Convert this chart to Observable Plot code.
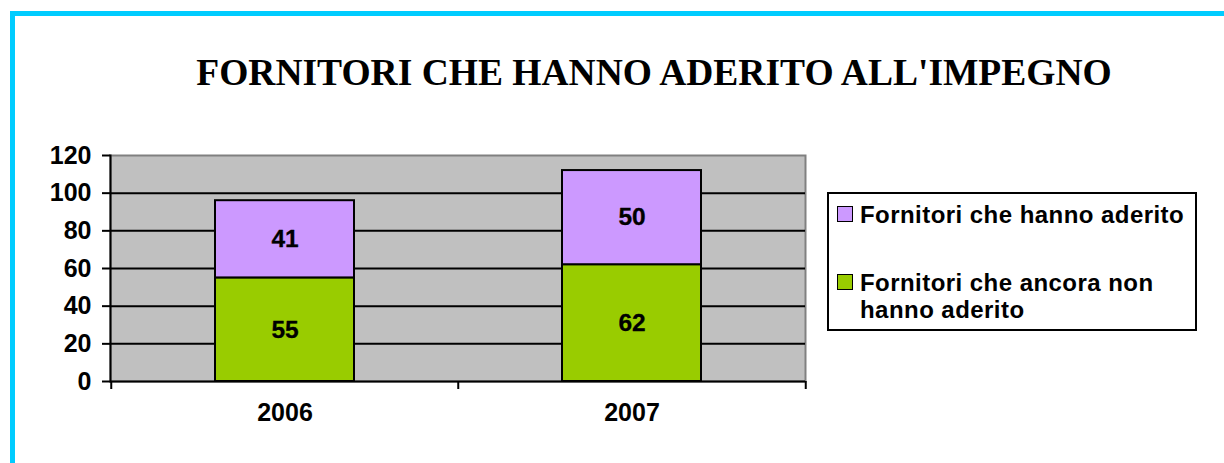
<!DOCTYPE html>
<html>
<head>
<meta charset="utf-8">
<script src="https://cdn.jsdelivr.net/npm/d3@7"></script>
<script src="https://cdn.jsdelivr.net/npm/@observablehq/plot@0.6"></script>
<style>
  html, body { margin: 0; padding: 0; background: #fff; }
  #wrap { position: relative; width: 1224px; height: 463px; overflow: hidden; background: #fff; }
  #border { position: absolute; left: 10px; top: 11px; width: 2000px; height: 2000px;
            border-left: 5px solid #00CCFF; border-top: 5px solid #00CCFF; box-sizing: border-box; }
  #chart { position: absolute; left: 0; top: 0; }
  #title { position: absolute; left: 654px; top: 54px; transform: translateX(-50%); white-space: nowrap;
           font-family: "Liberation Serif", "Times New Roman", serif; font-weight: bold; font-size: 37.5px;
           line-height: 37px; color: #000; }
  #legend { position: absolute; left: 827px; top: 192px; width: 370px; height: 139px; box-sizing: border-box;
            border: 2px solid #000; background: #fff; padding: 7px 0 0 8px;
            font-family: "Liberation Sans", Arial, sans-serif; font-weight: bold; font-size: 24px; line-height: 27px;
            letter-spacing: 0.45px; color: #000; }
  .item { display: flex; align-items: flex-start; }
  .item + .item { margin-top: 41px; }
  .sw { width: 14px; height: 14px; border: 1.5px solid #000; margin: 5px 7px 0 0; flex: none; }
</style>
</head>
<body>
<div id="wrap">
  <div id="border"></div>
  <div id="chart"></div>
  <div id="title"></div>
  <div id="legend"></div>
</div>
<script>
const title = "FORNITORI CHE HANNO ADERITO ALL'IMPEGNO";
const years = ["2006", "2007"];
const series = ["Fornitori che ancora non hanno aderito", "Fornitori che hanno aderito"];
const nonAderito = [55, 62];
const aderito = [41, 50];
const yTicks = [0, 20, 40, 60, 80, 100, 120];
const colors = ["#99CC00", "#CC99FF"];
const legendOrder = [1, 0];

const rows = [];
years.forEach((y, i) => {
  rows.push({year: y, series: series[0], value: nonAderito[i]});
  rows.push({year: y, series: series[1], value: aderito[i]});
});

const W = 1224, H = 463, ML = 110, MR = 419, MT = 155, MB = 82;
const pInner = 0.6, pOuter = 0.3;
const step = (W - ML - MR) / (years.length - pInner + 2 * pOuter);

const chart = Plot.plot({
  width: W, height: H,
  marginLeft: ML, marginRight: MR, marginTop: MT, marginBottom: MB,
  x: {domain: years, paddingInner: pInner, paddingOuter: pOuter, axis: null, label: null},
  y: {domain: [0, 120], axis: null, label: null},
  color: {domain: series, range: colors},
  style: {fontFamily: "Liberation Sans, Arial, sans-serif", fontWeight: "bold", fontSize: "24px", color: "black", background: "transparent", overflow: "visible"},
  marks: [
    Plot.frame({fill: "#C0C0C0", stroke: "#808080", strokeWidth: 2}),
    Plot.ruleY(yTicks.filter(d => d > 0 && d < 120), {stroke: "black", strokeWidth: 2}),
    Plot.barY(rows, {x: "year", y: "value", z: "series", fill: "series", stroke: "black", strokeWidth: 2}),
    Plot.text(rows, Plot.stackY({x: "year", y: "value", z: "series", text: "value", fontSize: 24.5, fontWeight: "bold", fill: "black", stroke: "black", strokeWidth: 0.3})),
    Plot.frame({anchor: "left", stroke: "black", strokeWidth: 2}),
    Plot.ruleY([0], {stroke: "black", strokeWidth: 2}),
    Plot.axisY(yTicks, {tickSize: 8, tickPadding: 11, fontSize: 25, fontWeight: "bold", strokeWidth: 2, label: null}),
    Plot.axisX(years, {tickSize: 8, text: null, dx: -step / 2, strokeWidth: 2, label: null}),
    Plot.axisX([years[years.length - 1]], {tickSize: 8, text: null, dx: step / 2, strokeWidth: 2, label: null}),
    Plot.axisX(years, {tickSize: 0, tickPadding: 22, fontSize: 25, fontWeight: "bold", label: null})
  ]
});
document.getElementById("chart").appendChild(chart);
document.getElementById("title").textContent = title;

const legend = document.getElementById("legend");
legendOrder.forEach(i => {
  const item = document.createElement("div");
  item.className = "item";
  const sw = document.createElement("div");
  sw.className = "sw";
  sw.style.background = colors[i];
  const t = document.createElement("div");
  t.textContent = series[i];
  t.style.width = "330px";
  item.appendChild(sw);
  item.appendChild(t);
  legend.appendChild(item);
});
</script>
</body>
</html>
